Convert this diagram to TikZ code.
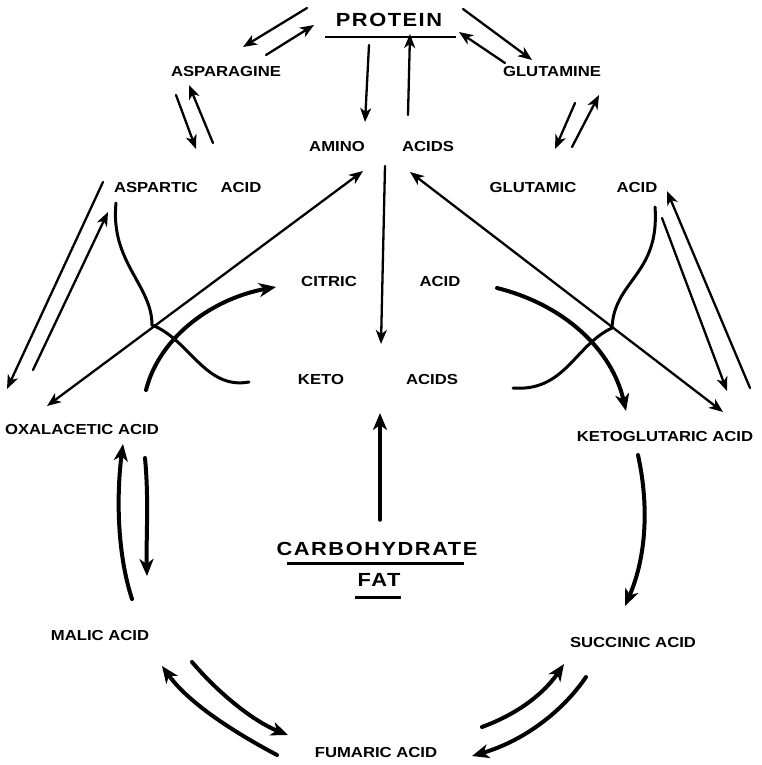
\documentclass[tikz,border=0pt]{standalone}
\usepackage{fontspec}
\newfontfamily\labfont{Liberation Sans}[FakeStretch=1.15]
\newfontfamily\headfont{Liberation Sans}[FakeStretch=1.15,LetterSpace=8]
\usetikzlibrary{arrows.meta}
\begin{document}
\begin{tikzpicture}[x=1pt,y=-1pt,
  lab/.style={inner sep=0pt,anchor=center,font=\labfont\bfseries\fontsize{14.5}{16}\selectfont},
  head/.style={inner sep=0pt,anchor=center,font=\headfont\bfseries\fontsize{19}{20}\selectfont},
  thin/.style={line width=2.3pt,line cap=round,-{Stealth[length=14pt,width=11pt,inset=4pt]}},
  thinboth/.style={line width=2.3pt,line cap=round,{Stealth[length=14pt,width=11pt,inset=4pt]}-{Stealth[length=14pt,width=11pt,inset=4pt]}},
  thick/.style={line width=4pt,line cap=round,-{Stealth[length=17pt,width=14pt,inset=5pt]}},
  curve/.style={line width=3pt,line cap=round},
  rule/.style={line width=3pt}]
\useasboundingbox (0,0) rectangle (762,765);
\fill[white] (0,0) rectangle (762,765);

% ---------- labels ----------
\node[head] (protein) at (389,20) {PROTEIN};
\node[lab] (asparagine) at (226,72) {ASPARAGINE};
\node[lab] (glutamine) at (552,72) {GLUTAMINE};
\node[lab] (amino) at (337,147) {AMINO};
\node[lab] (aminoacids) at (428,147) {ACIDS};
\node[lab] (aspartic) at (156,188) {ASPARTIC};
\node[lab] (asparticacid) at (241,188) {ACID};
\node[lab] (glutamic) at (533,188) {GLUTAMIC};
\node[lab] (glutamicacid) at (637,188) {ACID};
\node[lab] (citric) at (329,282) {CITRIC};
\node[lab] (citricacid) at (440,282) {ACID};
\node[lab] (keto) at (321,380) {KETO};
\node[lab] (ketoacids) at (432,380) {ACIDS};
\node[lab] (oxal) at (82,430) {OXALACETIC ACID};
\node[lab] (ketoglut) at (665,437) {KETOGLUTARIC ACID};
\node[head] (carbo) at (377,549) {CARBOHYDRATE};
\node[head] (fat) at (379,580) {FAT};
\node[lab] (malic) at (100,636) {MALIC ACID};
\node[lab] (succinic) at (633,643) {SUCCINIC ACID};
\node[lab] (fumaric) at (376,752) {FUMARIC ACID};

% ---------- underlines ----------
\coordinate (pu1) at (325,37); \coordinate (pu2) at (456,37);
\coordinate (cu1) at (287,563); \coordinate (cu2) at (464,563);
\coordinate (fu1) at (355,597); \coordinate (fu2) at (401,597);
\draw[rule,line width=2.5pt] (pu1) -- (pu2);
\draw[rule] (cu1) -- (cu2);
\draw[rule] (fu1) -- (fu2);

% ---------- protein arrows ----------
\coordinate (pa1) at (307,8);   \coordinate (pa2) at (243,47);
\coordinate (pa3) at (266,55);  \coordinate (pa4) at (314,25);
\draw[thin] (pa1) -- (pa2);
\draw[thin] (pa3) -- (pa4);
\coordinate (pg1) at (463,9);   \coordinate (pg2) at (532,60);
\coordinate (pg3) at (505,63);  \coordinate (pg4) at (459,32);
\draw[thin] (pg1) -- (pg2);
\draw[thin] (pg3) -- (pg4);
\coordinate (pm1) at (369,45);  \coordinate (pm2) at (365,122);
\coordinate (pm3) at (408,115); \coordinate (pm4) at (410,34);
\draw[thin] (pm1) -- (pm2);
\draw[thin] (pm3) -- (pm4);

% ---------- asparagine / glutamine ----------
\coordinate (as1) at (176,95);  \coordinate (as2) at (196,149);
\coordinate (as3) at (213,143); \coordinate (as4) at (189,85);
\draw[thin] (as1) -- (as2);
\draw[thin] (as3) -- (as4);
\coordinate (gl1) at (575,103); \coordinate (gl2) at (555,149);
\coordinate (gl3) at (572,147); \coordinate (gl4) at (599,95);
\draw[thin] (gl1) -- (gl2);
\draw[thin] (gl3) -- (gl4);

% ---------- amino acids -> keto acids ----------
\coordinate (ak1) at (385,166); \coordinate (ak2) at (381,344);
\draw[thin] (ak1) -- (ak2);
\coordinate (ck1) at (380,520); \coordinate (ck2) at (380,413);
\draw[thick,line width=3.5pt] (ck1) -- (ck2);

% ---------- left side ----------
\coordinate (ao1) at (103,182); \coordinate (ao2) at (7,389);
\coordinate (ao3) at (33,370);  \coordinate (ao4) at (108,212);
\draw[thin] (ao1) -- (ao2);
\draw[thin] (ao3) -- (ao4);
\coordinate (ox1) at (47,406);  \coordinate (am1) at (363,171);
\draw[thinboth] (ox1) -- (am1);
\coordinate (lj) at (152,325);
\coordinate (asp1) at (116,203); \coordinate (kl) at (249,382);
\draw[curve] (asp1) .. controls (110,262) and (152,285) .. (lj)
             .. controls (190,340) and (205,390) .. (kl);
\coordinate (oc1) at (146,390); \coordinate (oc2) at (276,287);
\draw[thick] (oc1) .. controls (160,335) and (215,298) .. (oc2);

% ---------- right side ----------
\coordinate (gk1) at (662,218); \coordinate (gk2) at (727,391);
\coordinate (gk3) at (750,388); \coordinate (gk4) at (667,191);
\draw[thin] (gk1) -- (gk2);
\draw[thin] (gk3) -- (gk4);
\coordinate (am2) at (410,172); \coordinate (kg1) at (723,412);
\draw[thinboth] (am2) -- (kg1);
\coordinate (rj) at (612,328);
\coordinate (glu1) at (655,207); \coordinate (kr) at (513,388);
\draw[curve] (glu1) .. controls (660,275) and (614,280) .. (rj)
             .. controls (575,345) and (565,392) .. (kr);
\coordinate (ck3) at (497,288); \coordinate (ck4) at (626,411);
\draw[thick] (ck3) .. controls (565,305) and (612,350) .. (ck4);

% ---------- cycle ----------
\coordinate (ks1) at (638,455); \coordinate (ks2) at (625,606);
\draw[thick] (ks1) .. controls (650,510) and (645,560) .. (ks2);
\coordinate (sf1) at (482,727); \coordinate (sf2) at (564,664);
\draw[thick] (sf1) .. controls (520,713) and (545,692) .. (sf2);
\coordinate (sf3) at (586,677); \coordinate (sf4) at (472,756);
\draw[thick] (sf3) .. controls (560,715) and (520,742) .. (sf4);
\coordinate (mf1) at (192,662); \coordinate (mf2) at (288,735);
\draw[thick] (mf1) .. controls (220,695) and (255,722) .. (mf2);
\coordinate (mf3) at (277,755); \coordinate (mf4) at (162,666);
\draw[thick] (mf3) .. controls (230,730) and (188,702) .. (mf4);
\coordinate (om1) at (132,599); \coordinate (om2) at (123,444);
\draw[thick] (om1) .. controls (116,550) and (117,490) .. (om2);
\coordinate (om3) at (145,458); \coordinate (om4) at (147,576);
\draw[thick] (om3) .. controls (149,500) and (146,540) .. (om4);
\end{tikzpicture}
\end{document}
